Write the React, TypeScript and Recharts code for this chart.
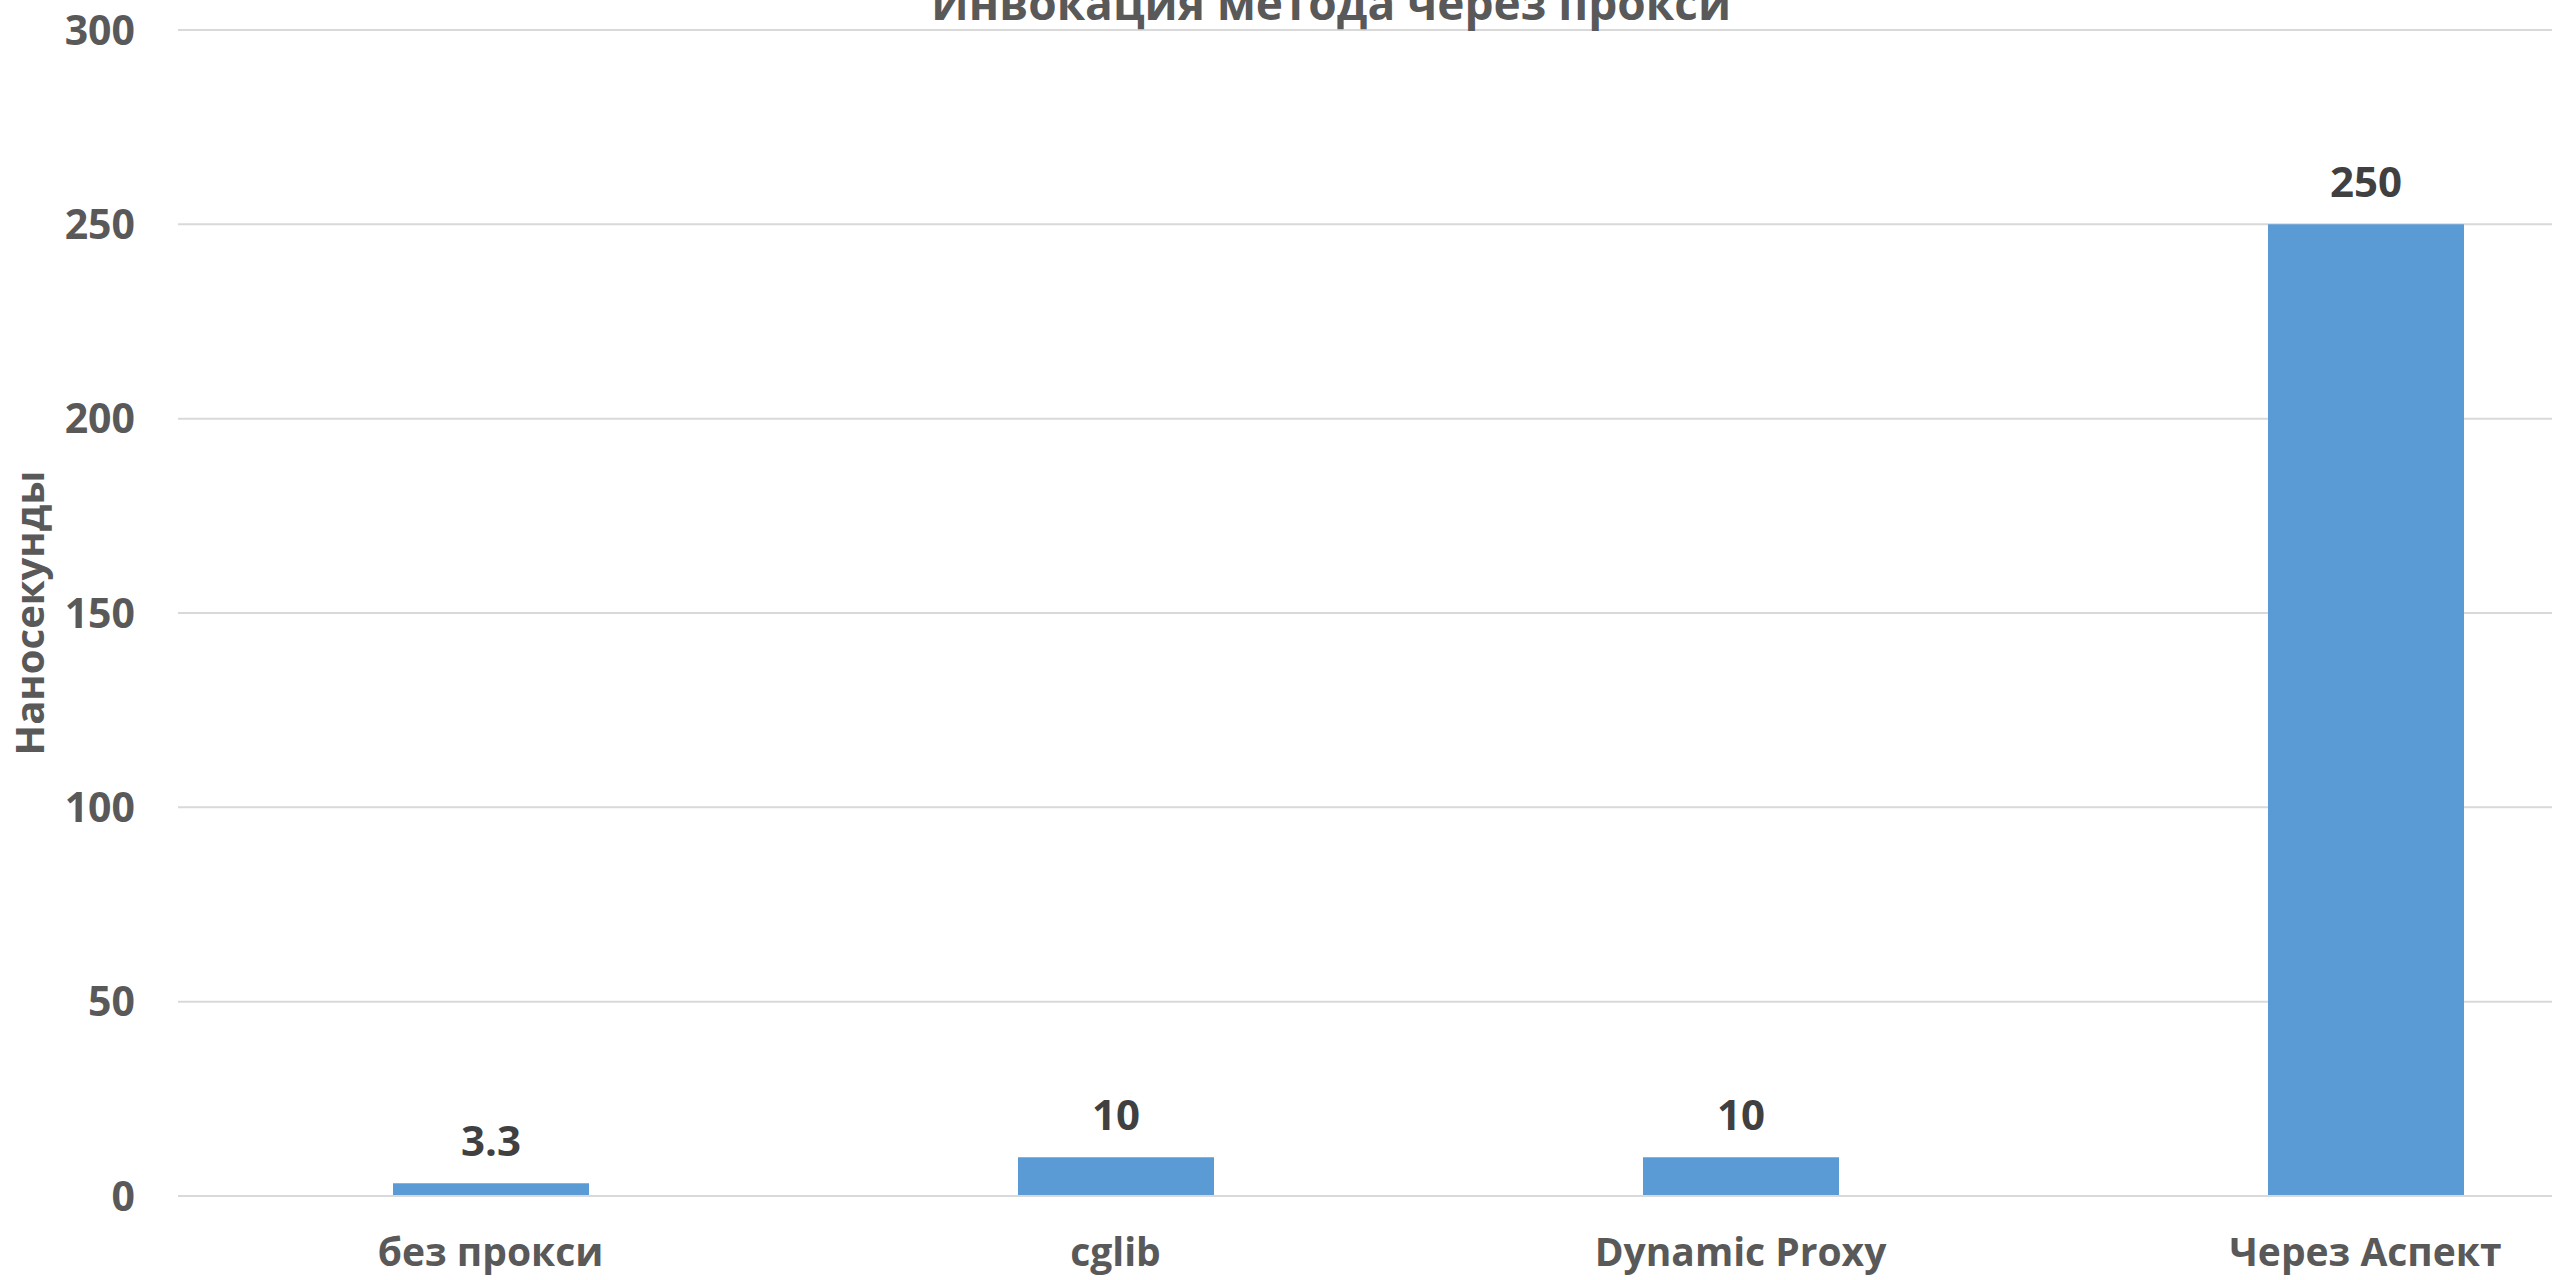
import React from 'react';
import { BarChart, Bar, XAxis, YAxis, CartesianGrid, LabelList } from 'recharts';

const categories = ['без прокси', 'cglib', 'Dynamic Proxy', 'Через Аспект'];
const nanos = [3.3, 10, 10, 250];
const yTicks = [0, 50, 100, 150, 200, 250, 300];

const chartTitle = 'Инвокация метода через прокси';
const yAxisTitle = 'Наносекунды';

const data = categories.map((name, i) => ({ name, value: nanos[i] }));

const FONT = "'Open Sans', 'Noto Sans', sans-serif";
const TEXT_GRAY = '#595959';

const YTitle = ({ viewBox }: any) => {
  const x = viewBox.x + 28;
  const y = viewBox.y + viewBox.height / 2;
  return (
    <text
      x={x}
      y={y}
      transform={`rotate(-90 ${x} ${y})`}
      textAnchor="middle"
      dominantBaseline="central"
      fill={TEXT_GRAY}
      fontSize={40}
      fontWeight="bold"
      fontFamily={FONT}
    >
      {yAxisTitle}
    </text>
  );
};

const App = () => {
  return (
    <div
      style={{
        position: 'fixed',
        left: 0,
        top: 0,
        width: 2552,
        height: 1280,
        overflow: 'hidden',
        background: '#ffffff',
        fontFamily: FONT,
      }}
    >
      <BarChart
        width={2678}
        height={1280}
        data={data}
        margin={{ top: 30, right: 0, bottom: 0, left: 0 }}
      >
        <CartesianGrid vertical={false} stroke="#D9D9D9" strokeWidth={2} />
        <XAxis
          dataKey="name"
          height={84}
          tickSize={0}
          tickMargin={42}
          axisLine={{ stroke: '#D9D9D9', strokeWidth: 2 }}
          tick={{ fill: TEXT_GRAY, fontSize: 39, fontWeight: 'bold', fontFamily: FONT }}
          interval={0}
        />
        <YAxis
          width={178}
          domain={[0, 300]}
          ticks={yTicks}
          axisLine={false}
          tickLine={false}
          tickSize={0}
          tickMargin={43}
          tick={{ fill: TEXT_GRAY, fontSize: 41, fontWeight: 'bold', fontFamily: FONT }}
          label={{ content: YTitle }}
        />
        <Bar dataKey="value" fill="#5B9BD5" barSize={196} isAnimationActive={false}>
          <LabelList
            dataKey="value"
            position="top"
            offset={27}
            fill="#404040"
            fontSize={42}
            fontWeight="bold"
            fontFamily={FONT}
          />
        </Bar>
      </BarChart>
      <svg
        width={2552}
        height={60}
        style={{ position: 'absolute', left: 0, top: 0, pointerEvents: 'none' }}
      >
        <text
          x={1331}
          y={20}
          textAnchor="middle"
          fill={TEXT_GRAY}
          fontSize={46}
          fontWeight="bold"
          fontFamily={FONT}
        >
          {chartTitle}
        </text>
      </svg>
    </div>
  );
};

export default App;
